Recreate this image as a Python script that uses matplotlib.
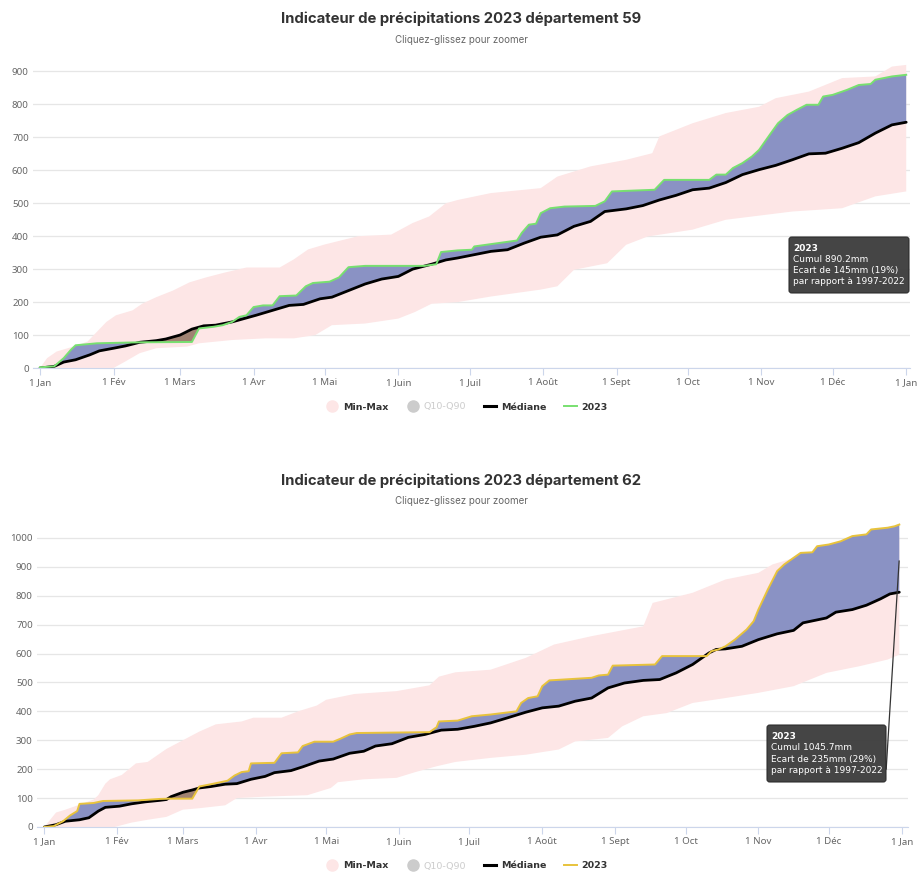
import numpy as np
import matplotlib
matplotlib.use('Agg')
import matplotlib.pyplot as plt
from matplotlib.lines import Line2D
from matplotlib.patches import FancyBboxPatch

month_days = [0, 31, 59, 90, 120, 151, 181, 212, 243, 273, 304, 334, 365]
month_labels = ['1 Jan', '1 Fév', '1 Mars', '1 Avr', '1 Mai', '1 Juin', '1 Juil',
                '1 Août', '1 Sept', '1 Oct', '1 Nov', '1 Déc', '1 Jan']

# département 59
d59_days_2023 = [0, 6, 10, 13, 15, 24, 42, 64, 67, 73, 77, 81, 84, 87, 90, 94, 98, 101, 108, 112,
                 115, 122, 126, 130, 137, 162, 165, 167, 169, 176, 182, 183, 190, 201, 203, 206, 209,
                 211, 215, 221, 234, 238, 241, 259, 263, 282, 285, 289, 292, 296, 300, 303, 308, 311,
                 315, 319, 323, 328, 330, 334, 340, 345, 350, 352, 359, 365]
d59_vals_2023 = [2, 5, 30, 55, 69, 75, 78, 79, 120, 125, 130, 140, 155, 160, 185, 190, 190, 218, 220, 248,
                 258, 262, 275, 306, 310, 310, 313, 315, 352, 357, 359, 369, 376, 387, 410, 435, 438,
                 470, 485, 490, 492, 506, 536, 541, 571, 571, 587, 587, 607, 622, 642, 662, 713, 743,
                 768, 784, 799, 799, 824, 829, 844, 859, 862, 875, 885, 890]
d59_days_med = [0, 6, 10, 15, 21, 25, 31, 36, 42, 49, 53, 59, 64, 69, 74, 81, 87, 91, 98, 105,
                111, 118, 123, 130, 137, 144, 151, 157, 165, 171, 176, 183, 190, 197, 204, 211, 218,
                225, 232, 238, 247, 254, 261, 268, 275, 282, 289, 296, 303, 310, 317, 324, 331, 338,
                345, 352, 359, 365]
d59_vals_med = [0, 5, 18, 25, 40, 52, 60, 67, 78, 83, 88, 100, 118, 128, 130, 140, 152, 160, 175, 190,
                193, 210, 215, 235, 255, 270, 278, 300, 315, 328, 334, 344, 354, 359, 379, 397, 404,
                430, 445, 475, 483, 493, 510, 524, 541, 546, 563, 587, 602, 615, 632, 650, 652, 667,
                684, 713, 738, 746]
d59_days_max = [0, 3, 7, 14, 20, 24, 28, 32, 39, 43, 49, 56, 63, 70, 78, 87, 101, 107, 113, 120,
                134, 148, 157, 164, 171, 176, 190, 211, 218, 232, 247, 258, 261, 275, 289, 303, 310,
                324, 338, 352, 359, 365]
d59_vals_max = [0, 30, 50, 65, 80, 110, 140, 160, 175, 195, 215, 235, 260, 275, 290, 305, 305, 330, 360, 375,
                400, 405, 440, 460, 500, 510, 531, 546, 581, 612, 632, 652, 703, 743, 774, 793, 819,
                839, 880, 885, 915, 920]
d59_days_min = [0, 31, 36, 42, 49, 62, 67, 81, 95, 107, 116, 123, 137, 151, 158, 165, 176, 190, 211, 218,
                225, 239, 247, 256, 275, 289, 317, 338, 352, 365]
d59_vals_min = [0, 0, 20, 45, 60, 65, 75, 85, 90, 90, 100, 130, 135, 150, 170, 195, 200, 217, 238, 248,
                298, 318, 374, 399, 420, 450, 475, 485, 521, 536]

# département 62
d62_days_2023 = [0, 4, 8, 11, 14, 15, 21, 25, 40, 49, 53, 63, 66, 71, 78, 81, 84, 87, 88, 98,
                 101, 108, 110, 115, 123, 126, 130, 133, 164, 167, 168, 176, 182, 190, 201, 203, 206,
                 210, 212, 215, 233, 236, 240, 242, 260, 263, 282, 284, 287, 290, 294, 299, 302, 304,
                 308, 312, 315, 319, 322, 327, 329, 334, 339, 344, 350, 352, 359, 362, 364]
d62_vals_2023 = [0, 3, 20, 40, 55, 80, 83, 90, 92, 97, 98, 98, 140, 148, 160, 178, 190, 193, 220, 222,
                 255, 258, 280, 295, 295, 305, 320, 325, 328, 345, 365, 368, 383, 389, 400, 429, 446,
                 452, 487, 507, 516, 524, 527, 558, 562, 591, 591, 608, 614, 625, 648, 683, 712, 752,
                 821, 885, 908, 931, 948, 950, 971, 977, 988, 1006, 1012, 1029, 1035, 1040, 1046]
d62_days_med = [0, 5, 9, 15, 19, 23, 26, 32, 37, 43, 49, 52, 54, 59, 63, 66, 71, 77, 82, 88,
                94, 98, 105, 110, 117, 123, 130, 136, 141, 148, 155, 162, 169, 176, 183, 190, 197,
                205, 212, 219, 226, 233, 240, 247, 255, 262, 269, 276, 283, 286, 290, 297, 304, 312,
                319, 323, 333, 337, 344, 350, 356, 360, 364]
d62_vals_med = [0, 8, 20, 25, 32, 55, 68, 72, 80, 87, 92, 95, 105, 120, 128, 135, 140, 148, 150, 165,
                175, 188, 195, 208, 228, 235, 255, 262, 280, 288, 310, 320, 335, 338, 348, 360, 377,
                397, 412, 418, 435, 446, 481, 498, 507, 510, 533, 562, 602, 614, 616, 625, 648, 668,
                680, 706, 723, 743, 752, 767, 789, 806, 812]
d62_days_max = [0, 2, 5, 9, 16, 21, 23, 26, 28, 33, 39, 44, 52, 59, 66, 73, 84, 89, 101, 108,
                116, 120, 132, 150, 164, 168, 175, 190, 205, 217, 233, 255, 259, 276, 290, 304, 310,
                319, 333, 347, 364]
d62_vals_max = [0, 20, 50, 60, 80, 95, 110, 150, 165, 180, 220, 225, 270, 300, 330, 355, 365, 378, 378, 400,
                420, 440, 460, 470, 490, 520, 535, 544, 585, 631, 660, 694, 775, 810, 856, 879, 908,
                930, 960, 994, 1005]
d62_days_min = [0, 30, 37, 44, 52, 59, 66, 77, 82, 94, 112, 116, 122, 125, 136, 150, 158, 167, 175, 190,
                205, 219, 226, 240, 246, 255, 265, 276, 290, 304, 319, 333, 347, 359, 364]
d62_vals_min = [0, 0, 15, 25, 35, 60, 65, 75, 100, 105, 110, 120, 135, 155, 165, 170, 190, 210, 225, 239,
                250, 268, 296, 308, 348, 383, 394, 429, 446, 464, 487, 533, 556, 579, 596]

W, H = 923, 873
PINK = '#fde6e6'
BLUE = '#8a92c4'
BROWN = '#a08272'
AXIS_COL = '#ccd6eb'
GRID_COL = '#e6e6e6'
LABEL_COL = '#666666'

plt.rcParams['font.family'] = ['Noto Sans', 'DejaVu Sans']

fig = plt.figure(figsize=(W / 100, H / 100), dpi=100)


def fx(px):
    return px / W


def fy(py):
    return 1 - py / H


def draw_panel(box, xlim, ylim, yticks, days23, vals23, dmed, vmed, dmax, vmax, dmin, vmin, line_col):
    left, top, right, bottom = box
    ax = fig.add_axes([fx(left), fy(bottom), fx(right - left), (bottom - top) / H])

    # min-max band
    band_x = np.concatenate([dmax, dmin[::-1]])
    band_y = np.concatenate([vmax, vmin[::-1]])
    ax.fill(band_x, band_y, color=PINK, lw=0, zorder=1)

    # difference 2023 vs median
    grid = np.union1d(days23, dmed)
    g23 = np.interp(grid, days23, vals23)
    gmed = np.interp(grid, dmed, vmed)
    ax.fill_between(grid, g23, gmed, where=g23 >= gmed, interpolate=True, color=BLUE, lw=0, zorder=2)
    ax.fill_between(grid, g23, gmed, where=g23 < gmed, interpolate=True, color=BROWN, lw=0, zorder=2)

    ax.plot(dmed, vmed, color='black', lw=2, zorder=3, solid_capstyle='round')
    ax.plot(days23, vals23, color=line_col, lw=1.4, zorder=4)

    ax.set_xlim(*xlim)
    ax.set_ylim(*ylim)
    ax.set_yticks(yticks)
    ax.set_xticks(month_days)
    ax.set_xticklabels(month_labels)
    ax.yaxis.grid(True, color=GRID_COL, lw=0.9)
    ax.set_axisbelow(True)
    for s in ['top', 'right', 'left']:
        ax.spines[s].set_visible(False)
    ax.spines['bottom'].set_color(AXIS_COL)
    ax.spines['bottom'].set_zorder(5)
    ax.tick_params(axis='y', length=0, pad=3, labelsize=7, labelcolor=LABEL_COL)
    ax.tick_params(axis='x', length=5, width=0.8, color=AXIS_COL, pad=2, labelsize=7, labelcolor=LABEL_COL)
    ax.set_facecolor('white')
    return ax


def draw_header(title, y_title, y_sub):
    fig.text(fx(461), fy(y_title), title, ha='center', va='center', fontsize=10.7,
             fontweight='bold', family='Inter', color='#333333')
    fig.text(fx(461), fy(y_sub), 'Cliquez-glissez pour zoomer', ha='center', va='center',
             fontsize=7, color=LABEL_COL, family='Inter')


def draw_legend(y, line_col):
    handles = [
        Line2D([], [], ls='none', marker='o', ms=8, color=PINK),
        Line2D([], [], ls='none', marker='o', ms=8, color='#cccccc'),
        Line2D([], [], color='black', lw=2.2),
        Line2D([], [], color=line_col, lw=1.4),
    ]
    labels = ['Min-Max', 'Q10-Q90', 'Médiane', '2023']
    leg = fig.legend(handles, labels, loc='center', bbox_to_anchor=(fx(467), fy(y)), ncol=4,
                     frameon=False, prop={'size': 6.8, 'weight': 'bold', 'family': 'DejaVu Sans'},
                     handlelength=1.3, handletextpad=0.5, columnspacing=1.9)
    texts = leg.get_texts()
    for t in texts:
        t.set_color('#333333')
        t.set_fontweight('bold')
    texts[1].set_color('#cccccc')
    texts[1].set_fontweight('normal')


def draw_tooltip(box, lines):
    left, top, right, bottom = box
    patch = FancyBboxPatch((fx(left), fy(bottom)), fx(right - left), (bottom - top) / H,
                           boxstyle='round,pad=0,rounding_size=0.003', transform=fig.transFigure,
                           fc='#3b3b3b', ec='#2a2a2a', lw=0.8, alpha=0.95, zorder=10)
    fig.add_artist(patch)
    step = (bottom - top - 12) / 4.0
    for i, txt in enumerate(lines):
        fig.text(fx(left + 4), fy(top + 8 + step * i + step / 2 - 2), txt, ha='left', va='center',
                 fontsize=6.5, color='white', fontweight='bold' if i == 0 else 'normal',
                 family='DejaVu Sans', zorder=11)


# top chart
ax1 = draw_panel((33, 57, 910, 368), (-2.95, 366.6), (0, 944), np.arange(0, 901, 100),
                 d59_days_2023, d59_vals_2023, d59_days_med, d59_vals_med,
                 np.array(d59_days_max), np.array(d59_vals_max),
                 np.array(d59_days_min), np.array(d59_vals_min), '#78e070')
draw_header('Indicateur de précipitations 2023 département 59', 19, 40)
draw_legend(407, '#78e070')
draw_tooltip((789, 237, 909, 293),
             ['2023', 'Cumul 890.2mm', 'Ecart de 145mm (19%)', 'par rapport à 1997-2022'])

# bottom chart
ax2 = draw_panel((37, 515, 908, 827), (-3.1, 367.7), (0, 1079), np.arange(0, 1001, 100),
                 d62_days_2023, d62_vals_2023, d62_days_med, d62_vals_med,
                 np.array(d62_days_max), np.array(d62_vals_max),
                 np.array(d62_days_min), np.array(d62_vals_min), '#e8c33c')
draw_header('Indicateur de précipitations 2023 département 62', 481, 501)
draw_legend(866, '#e8c33c')
draw_tooltip((767, 725, 886, 782),
             ['2023', 'Cumul 1045.7mm', 'Ecart de 235mm (29%)', 'par rapport à 1997-2022'])
ax2.annotate('', xy=(d62_days_2023[-1], 930), xycoords='data',
             xytext=(fx(886), fy(772)), textcoords='figure fraction',
             arrowprops=dict(arrowstyle='-', color='#333333', lw=0.9), zorder=6)

fig.savefig('out.png', dpi=100, facecolor='white')
